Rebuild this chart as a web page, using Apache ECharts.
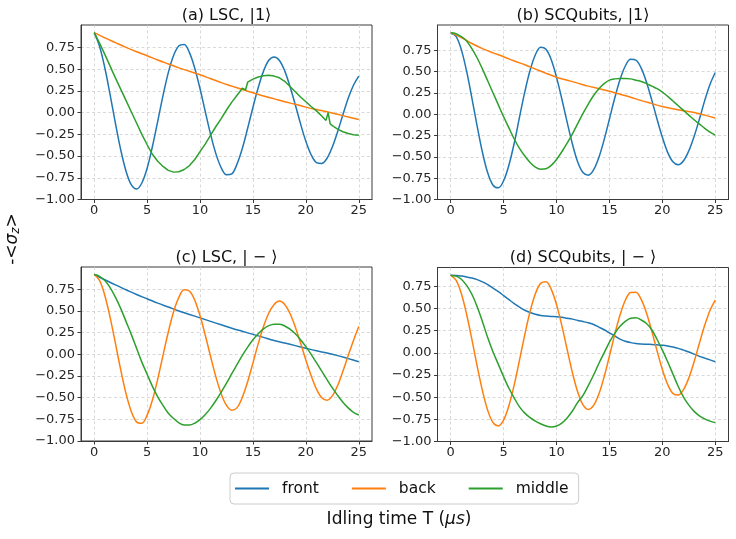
<!DOCTYPE html>
<html>
<head>
<meta charset="utf-8">
<script src="https://cdn.jsdelivr.net/npm/echarts/dist/echarts.min.js"></script>
<style>
html,body{margin:0;padding:0;background:#fff;}
#chart{width:736px;height:539px;}
</style>
</head>
<body>
<div id="chart"></div>
<script>
// ---------- data ----------
const seriesNames = ['front', 'back', 'middle'];
const seriesColors = ['#1f77b4', '#ff7f0e', '#2ca02c'];
const panelTitles = ['(a) LSC, |1⟩', '(b) SCQubits, |1⟩', '(c) LSC, | − ⟩', '(d) SCQubits, | − ⟩'];
const xTicks = [0, 5, 10, 15, 20, 25];
const yTicks = [-1, -0.75, -0.5, -0.25, 0, 0.25, 0.5, 0.75];

const tHalf = [0,0.5,1,1.5,2,2.5,3,3.5,4,4.5,5,5.5,6,6.5,7,7.5,8,8.5,9,9.5,10,10.5,11,11.5,12,12.5,13,13.5,14,14.5,15,15.5,16,16.5,17,17.5,18,18.5,19,19.5,20,20.5,21,21.5,22,22.5,23,23.5,24,24.5,25];
const tOne = [0,1,2,3,4,5,6,7,8,9,10,11,12,13,14,15,16,17,18,19,20,21,22,23,24,25];

// (a) LSC |1>
const aFront = [0.92,0.764,0.516,0.207,-0.121,-0.426,-0.671,-0.83,-0.88,-0.81,-0.64,-0.39,-0.10,0.195,0.46,0.658,0.77,0.785,0.69,0.511,0.274,0.009,-0.252,-0.475,-0.635,-0.715,-0.705,-0.59,-0.41,-0.18,0.062,0.288,0.477,0.602,0.64,0.60,0.48,0.30,0.09,-0.13,-0.33,-0.485,-0.575,-0.585,-0.525,-0.395,-0.22,-0.025,0.165,0.315,0.42];
const aBack = [0.92,0.86,0.805,0.75,0.70,0.655,0.605,0.56,0.515,0.475,0.435,0.39,0.345,0.305,0.265,0.228,0.19,0.158,0.125,0.095,0.063,0.035,0.01,-0.02,-0.05,-0.08];
const aMiddleT = [0,0.5,1,1.5,2,2.5,3,3.5,4,4.5,5,5.5,6,6.5,7,7.5,8,8.5,9,9.5,10,10.5,11,11.5,12,12.5,13,13.5,14,14.1,14.3,14.5,15,15.5,16,16.5,17,17.5,18,18.5,19,19.5,20,20.5,21,21.5,21.9,22.1,22.3,22.5,23,23.5,24,24.5,25];
const aMiddle = [0.92,0.80,0.67,0.535,0.40,0.27,0.14,0.01,-0.12,-0.25,-0.37,-0.48,-0.56,-0.62,-0.665,-0.685,-0.68,-0.655,-0.61,-0.54,-0.45,-0.36,-0.26,-0.16,-0.07,0.03,0.12,0.20,0.28,0.30,0.26,0.35,0.385,0.41,0.425,0.43,0.42,0.40,0.36,0.30,0.24,0.18,0.125,0.07,0.02,-0.04,-0.09,0.0,-0.13,-0.15,-0.19,-0.22,-0.24,-0.255,-0.26];

// (b) SCQubits |1>
const bFront = [0.95,0.914,0.758,0.505,0.19,-0.142,-0.449,-0.69,-0.833,-0.863,-0.779,-0.596,-0.339,-0.034,0.262,0.516,0.698,0.785,0.762,0.639,0.433,0.179,-0.093,-0.349,-0.559,-0.684,-0.715,-0.653,-0.507,-0.298,-0.055,0.19,0.407,0.566,0.645,0.636,0.541,0.376,0.166,-0.058,-0.27,-0.447,-0.558,-0.593,-0.546,-0.429,-0.26,-0.058,0.16,0.35,0.49];
const bBack = [0.955,0.90,0.83,0.77,0.72,0.675,0.625,0.58,0.53,0.48,0.435,0.40,0.365,0.33,0.30,0.27,0.235,0.20,0.16,0.125,0.09,0.065,0.04,0.02,-0.01,-0.045];
const bMiddle = [0.955,0.945,0.91,0.86,0.77,0.66,0.53,0.39,0.25,0.11,-0.03,-0.16,-0.29,-0.40,-0.49,-0.565,-0.62,-0.645,-0.64,-0.60,-0.53,-0.44,-0.34,-0.23,-0.11,0.01,0.12,0.22,0.30,0.36,0.40,0.415,0.42,0.42,0.415,0.40,0.385,0.36,0.33,0.30,0.26,0.21,0.155,0.10,0.045,-0.01,-0.065,-0.115,-0.165,-0.21,-0.245];

// (c) LSC |->
const cFront = [0.92,0.86,0.80,0.745,0.69,0.64,0.59,0.545,0.50,0.46,0.42,0.38,0.34,0.30,0.265,0.23,0.195,0.16,0.13,0.10,0.07,0.04,0.015,-0.015,-0.05,-0.085];
const cBack = [0.92,0.852,0.679,0.426,0.128,-0.177,-0.451,-0.659,-0.78,-0.795,-0.702,-0.527,-0.286,-0.012,0.257,0.491,0.657,0.745,0.73,0.624,0.444,0.217,-0.028,-0.261,-0.456,-0.59,-0.645,-0.615,-0.495,-0.316,-0.099,0.123,0.321,0.476,0.575,0.615,0.575,0.47,0.315,0.13,-0.066,-0.248,-0.4,-0.5,-0.53,-0.48,-0.36,-0.195,-0.015,0.16,0.32];
const cMiddle = [0.92,0.90,0.85,0.77,0.66,0.53,0.38,0.23,0.07,-0.09,-0.23,-0.37,-0.49,-0.59,-0.68,-0.74,-0.79,-0.815,-0.816,-0.795,-0.754,-0.695,-0.621,-0.533,-0.436,-0.332,-0.224,-0.117,-0.013,0.082,0.167,0.238,0.294,0.331,0.348,0.348,0.327,0.29,0.236,0.168,0.088,-0.001,-0.097,-0.195,-0.293,-0.388,-0.474,-0.553,-0.618,-0.669,-0.70];

// (d) SCQubits |->
const dFront = [0.875,0.872,0.865,0.855,0.843,0.825,0.80,0.77,0.73,0.69,0.645,0.60,0.555,0.515,0.48,0.455,0.435,0.422,0.415,0.41,0.407,0.40,0.39,0.38,0.365,0.352,0.338,0.32,0.29,0.26,0.225,0.19,0.155,0.13,0.115,0.105,0.10,0.097,0.094,0.09,0.085,0.077,0.065,0.05,0.03,0.01,-0.015,-0.04,-0.06,-0.08,-0.10];
const dBack = [0.873,0.82,0.668,0.435,0.151,-0.15,-0.428,-0.65,-0.788,-0.824,-0.756,-0.595,-0.361,-0.082,0.206,0.466,0.667,0.783,0.80,0.716,0.543,0.306,0.038,-0.224,-0.442,-0.587,-0.638,-0.593,-0.465,-0.27,-0.036,0.208,0.426,0.593,0.681,0.684,0.602,0.449,0.245,0.022,-0.189,-0.357,-0.458,-0.477,-0.415,-0.283,-0.1,0.108,0.31,0.478,0.595];
const dMiddle = [0.873,0.865,0.83,0.76,0.66,0.52,0.35,0.17,0.01,-0.13,-0.27,-0.40,-0.51,-0.61,-0.68,-0.73,-0.77,-0.80,-0.825,-0.836,-0.826,-0.792,-0.734,-0.656,-0.559,-0.48,-0.37,-0.25,-0.12,0.0,0.12,0.22,0.30,0.355,0.39,0.394,0.37,0.33,0.26,0.15,0.03,-0.1,-0.24,-0.38,-0.5,-0.59,-0.66,-0.71,-0.745,-0.77,-0.787];

// upper y-limits of the four panels (matplotlib autoscale tops)
const yTops = [1.008, 1.047, 1.007, 0.962];

// ---------- build chart ----------
const FONT = 'DejaVu Sans';
function zip(t, v) { return t.map((x, i) => [x, v[i]]); }
const panelData = [
  [[tHalf, aFront], [tOne, aBack], [aMiddleT, aMiddle]],
  [[tHalf, bFront], [tOne, bBack], [tHalf, bMiddle]],
  [[tOne, cFront], [tHalf, cBack], [tHalf, cMiddle]],
  [[tHalf, dFront], [tHalf, dBack], [tHalf, dMiddle]]
];
const grids = [
  {left: 81, top: 25, width: 291, height: 174.5},
  {left: 437.5, top: 25, width: 291, height: 174.5},
  {left: 81, top: 267, width: 291, height: 174},
  {left: 437.5, top: 267.5, width: 291, height: 174}
];
const fmtY = v => (v < 0 ? '\u2212' : '') + Math.abs(v).toFixed(2);
const xAxes = [], yAxes = [], series = [], graphics = [];
grids.forEach((g, i) => {
  g.show = true; g.borderColor = '#3a3a3a'; g.borderWidth = 1; g.backgroundColor = 'transparent';
  g.containLabel = false;
  xAxes.push({
    type: 'value', gridIndex: i, min: -1.25, max: 26.25,
    axisLine: {show: true, onZero: false, lineStyle: {color: '#3a3a3a', width: 1}},
    axisTick: {show: true, length: 3.5, lineStyle: {color: '#3a3a3a'}, customValues: xTicks},
    axisLabel: {show: true, customValues: xTicks, margin: 5, color: '#262626', fontFamily: FONT, fontSize: 13, formatter: v => String(v)},
    splitLine: {show: true, lineStyle: {color: '#cfcfcf', type: [3, 2.5], width: 0.8}}
  });
  yAxes.push({
    type: 'value', gridIndex: i, min: -1, max: yTops[i],
    axisLine: {show: true, onZero: false, lineStyle: {color: '#3a3a3a', width: 1}},
    axisTick: {show: true, length: 3.5, lineStyle: {color: '#3a3a3a'}, customValues: yTicks},
    axisLabel: {show: true, customValues: yTicks, margin: 6, color: '#262626', fontFamily: FONT, fontSize: 13, formatter: fmtY},
    splitLine: {show: true, lineStyle: {color: '#cfcfcf', type: [3, 2.5], width: 0.8}}
  });
  panelData[i].forEach((pair, k) => {
    series.push({
      type: 'line', name: seriesNames[k], xAxisIndex: i, yAxisIndex: i,
      data: zip(pair[0], pair[1]), symbol: 'none', showSymbol: false,
      smooth: (i === 0 && k === 2) ? false : 0.35,
      lineStyle: {color: seriesColors[k], width: 1.5}, itemStyle: {color: seriesColors[k]},
      z: 3 + k
    });
  });
  graphics.push({
    type: 'text', x: g.left + g.width / 2, y: g.top - 9.5,
    style: {text: panelTitles[i], font: '16px "DejaVu Sans"', fill: '#111', align: 'center', verticalAlign: 'middle'}
  });
});
graphics.push({
  type: 'text', x: 13, y: 239, rotation: Math.PI / 2,
  style: {
    text: '-<{i|σ}{s|z}>', align: 'center', verticalAlign: 'middle', fill: '#111',
    font: '17px "DejaVu Sans"',
    rich: {i: {fontStyle: 'italic', fontSize: 17, fontFamily: FONT, fill: '#111'},
           s: {fontStyle: 'italic', fontSize: 12, fontFamily: FONT, fill: '#111', verticalAlign: 'bottom', padding: [6, 0, 0, 0]}}
  }
});
graphics.push({
  type: 'text', x: 399, y: 520,
  style: {
    text: 'Idling time T ({i|μs})', align: 'center', verticalAlign: 'middle', fill: '#111',
    font: '17px "DejaVu Sans"',
    rich: {i: {fontStyle: 'italic', fontSize: 17, fontFamily: FONT, fill: '#111'}}
  }
});

const chart = echarts.init(document.getElementById('chart'), null, {renderer: 'canvas'});
chart.setOption({
  animation: false,
  backgroundColor: '#fff',
  color: seriesColors,
  grid: grids,
  xAxis: xAxes,
  yAxis: yAxes,
  series: series,
  legend: {
    data: seriesNames.map(n => ({name: n, icon: 'rect'})), left: 230, top: 473, orient: 'horizontal',
    itemWidth: 34, itemHeight: 2, itemGap: 33,
    padding: [7, 10, 7, 5],
    backgroundColor: '#fff', borderColor: '#cccccc', borderWidth: 1, borderRadius: 4,
    textStyle: {fontFamily: FONT, fontSize: 15.5, color: '#111', lineHeight: 17, padding: [0, 0, 0, 8]},
    selectedMode: false
  },
  graphic: graphics
});
</script>
</body>
</html>
